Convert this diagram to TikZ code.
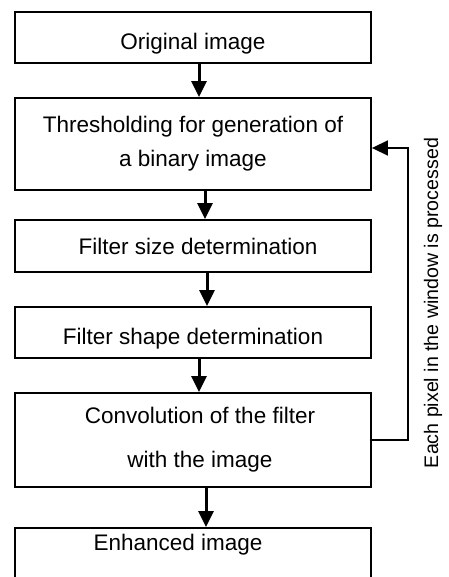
\documentclass[tikz,border=0pt]{standalone}
\usepackage{fontspec}
\setmainfont{Liberation Sans}
\usetikzlibrary{arrows.meta}
\begin{document}
\begin{tikzpicture}[x=1pt,y=-1pt,
  stepbox/.style={draw, line width=1.8pt, minimum width=356pt, inner xsep=0pt, inner ysep=0pt,
    font=\fontsize{22.5}{34}\selectfont, align=center},
  flow/.style={line width=3pt, -{Triangle[width=15pt,length=16pt]}},
  fb/.style={line width=1.5pt, -{Triangle[width=15pt,length=16pt]}}]
\useasboundingbox (0,0) rectangle (448,577);
\clip (0,0) rectangle (448,577);
\node[stepbox, minimum height=51pt, text height=24pt, text depth=0pt] (b1) at (193,37.8) {Original image};
\node[stepbox, minimum height=92pt] (b2) at (193,144) {Thresholding for generation of\\a binary image};
\node[stepbox, minimum height=52pt] (b3) at (193,246) {\hspace*{10pt}Filter size determination};
\node[stepbox, minimum height=51pt, text height=24pt, text depth=0pt] (b4) at (193,332.5) {Filter shape determination};
\node[stepbox, minimum height=94pt, font=\fontsize{22.5}{44}\selectfont] (b5) at (193,440) {\hspace*{14pt}Convolution of the filter\\\hspace*{14pt}with the image};
\node[stepbox, anchor=north, text height=22.3pt, text depth=45pt] (b6) at (193,527) {Enhanced image\hspace*{30pt}};
\draw[flow] ([xshift=6pt]b1.south) -- ([xshift=6pt]b2.north);
\draw[flow] ([xshift=12pt]b2.south) -- ([xshift=12pt]b3.north);
\draw[flow] ([xshift=14pt]b3.south) -- ([xshift=14pt]b4.north);
\draw[flow] ([xshift=6pt]b4.south) -- ([xshift=6pt]b5.north);
\draw[flow] ([xshift=13pt]b5.south) -- ([xshift=13pt]b6.north);
\draw[fb] (b5.east) -- ++(36,0) |- ([yshift=-4pt]b2.east);
\node[rotate=90, anchor=base, font=\fontsize{19.6}{22}\selectfont] (fbl) at (438,303) {Each pixel in the window is processed};
\end{tikzpicture}
\end{document}
